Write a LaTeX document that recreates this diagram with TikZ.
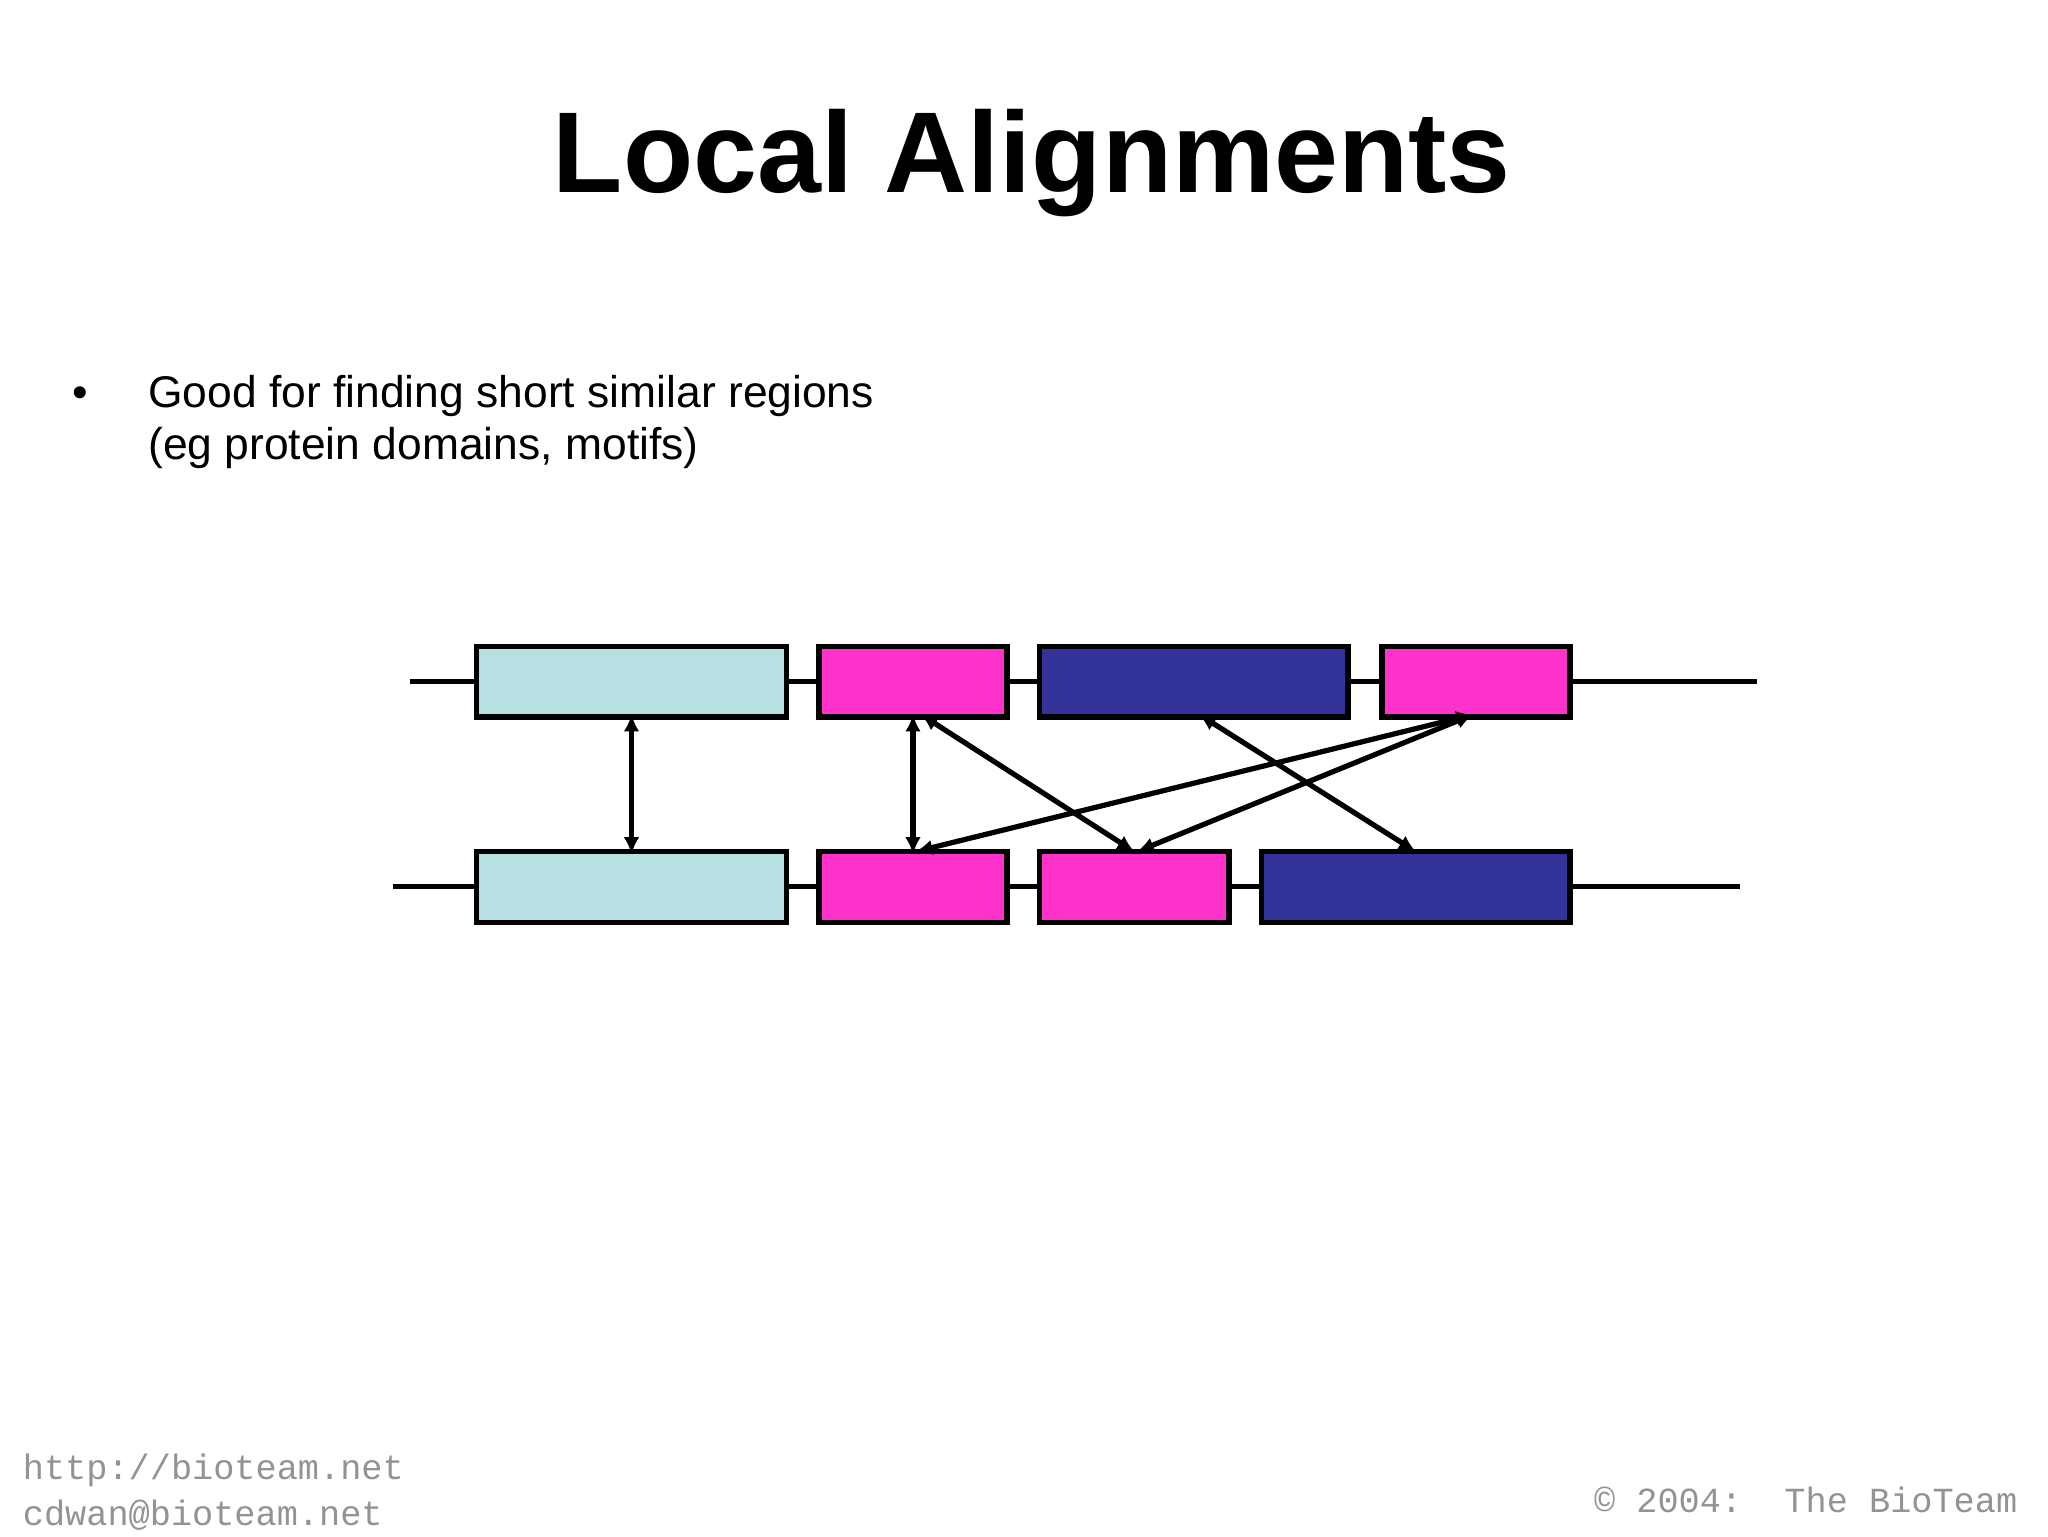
\documentclass[tikz,border=0pt]{standalone}
\usepackage{fontspec}
\setmainfont{Liberation Sans}
\newfontfamily\monof{Liberation Mono}
\usetikzlibrary{arrows.meta}
\definecolor{cy}{HTML}{B8E0E2}
\definecolor{pk}{HTML}{FF33CC}
\definecolor{nv}{HTML}{333399}
\begin{document}
\begin{tikzpicture}[x=1pt,y=-1pt,
  seg/.style={draw=black,line width=4pt,inner sep=0pt,minimum height=54pt},
  ln/.style={line width=4pt},
  ar/.style={line width=4pt,{Latex[length=13pt,width=12pt]}-{Latex[length=13pt,width=12pt]}}]
\useasboundingbox (0,0) rectangle (1568,1176);
\node[font=\bfseries\fontsize{88}{96}\selectfont] (title) at (790,125) {Local Alignments};
\node[anchor=base west,font=\fontsize{34}{40}\selectfont] (b) at (52,312) {•};
\node[anchor=base west,font=\fontsize{34}{40}\selectfont,align=left] (t) at (110,312) {Good for finding short similar regions};
\node[anchor=base west,font=\fontsize{34}{40}\selectfont,align=left] (t2) at (110,352) {(eg protein domains, motifs)};
\coordinate (l1) at (314,522); \coordinate (r1) at (1345,522);
\coordinate (l2) at (301,679); \coordinate (r2) at (1332,679);
\draw[ln] (l1)--(r1); \draw[ln] (l2)--(r2);
\node[seg,fill=cy,minimum width=237pt] (a1) at (483.5,522) {};
\node[seg,fill=pk,minimum width=144pt] (a2) at (699,522) {};
\node[seg,fill=nv,minimum width=236pt] (a3) at (914,522) {};
\node[seg,fill=pk,minimum width=144pt] (a4) at (1130,522) {};
\node[seg,fill=cy,minimum width=237pt] (b1) at (483.5,679) {};
\node[seg,fill=pk,minimum width=144pt] (b2) at (699,679) {};
\node[seg,fill=pk,minimum width=145pt] (b3) at (868.5,679) {};
\node[seg,fill=nv,minimum width=236pt] (b4) at (1084,679) {};
\draw[ar] ([yshift=4pt]a1.south) -- ([yshift=-4pt]b1.north);
\draw[ar] ([yshift=4pt]a2.south) -- ([yshift=-4pt]b2.north);
\draw[ar] ([xshift=6pt,yshift=4pt]a2.south) -- ([yshift=-2pt]b3.north);
\draw[ar] ([xshift=4pt,yshift=4pt]a3.south) -- ([yshift=-2pt]b4.north);
\draw[ar] ([xshift=-2pt,yshift=4pt]a4.south) -- ([xshift=2pt,yshift=-2pt]b2.north);
\draw[ar] ([xshift=-2pt,yshift=4pt]a4.south) -- ([xshift=2pt,yshift=-2pt]b3.north);
\node[anchor=base west,font=\monof\fontsize{27}{32}\selectfont,text=gray!85] (u) at (14,1133) {http://bioteam.net};
\node[anchor=base west,font=\monof\fontsize{27}{32}\selectfont,text=gray!85] (e) at (14,1168) {cdwan@bioteam.net};
\node[anchor=base east,font=\monof\fontsize{27}{32}\selectfont,text=gray!85] (c) at (1548,1158) {© 2004:~~The BioTeam};
\end{tikzpicture}
\end{document}
